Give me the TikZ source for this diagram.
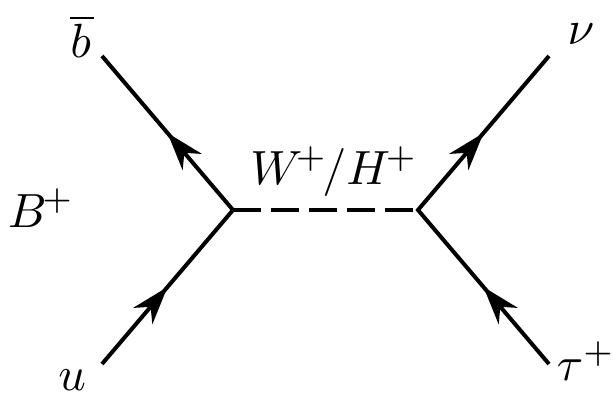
\documentclass[tikz,border=0pt]{standalone}
\usepackage{amsmath,amssymb}
\usepackage{tikz}
\usetikzlibrary{arrows.meta,decorations.markings}

\begin{document}
\begin{tikzpicture}[x=1pt,y=-1pt,line width=4pt,
  midarr/.style={decoration={markings,
    mark=at position 0.25 with {\arrowreversed{Stealth[length=38pt,width=25pt,inset=12pt]}},
    mark=at position 0.75 with {\arrowreversed{Stealth[length=38pt,width=25pt,inset=12pt]}}},
    postaction={decorate}},
  lbl/.style={anchor=base,inner sep=0pt,scale=4.8}]
  \useasboundingbox (0,0) rectangle (613,398);
  % vertices and outer ends
  \coordinate (vl) at (233,210);
  \coordinate (vr) at (418,210);
  \coordinate (bend) at (102,56);
  \coordinate (uend) at (102,364);
  \coordinate (nuend) at (549,56);
  \coordinate (tauend) at (549,364);
  \draw[midarr,line join=miter] (bend) -- (vl) -- (uend);
  \draw[midarr,line join=miter] (nuend) -- (vr) -- (tauend);
  \draw[dash pattern=on 28pt off 10pt] (vl) -- (vr);
  % labels
  \node[lbl] (bbar) at (82,58) {$\overline{b\mkern1mu}$};
  \node[lbl] (Bp) at (41,227) {$B^{\mkern-2mu+}$};
  \node[lbl] (u) at (72,390) {$u$};
  \node[lbl] (WH) at (334,185) {$W^{\mkern-3mu+}\mkern-2mu/H^{\mkern-2mu+}$};
  \node[lbl] (nu) at (581,45) {$\nu$};
  \node[lbl] (tau) at (586,380) {$\tau^+$};
\end{tikzpicture}
\end{document}
